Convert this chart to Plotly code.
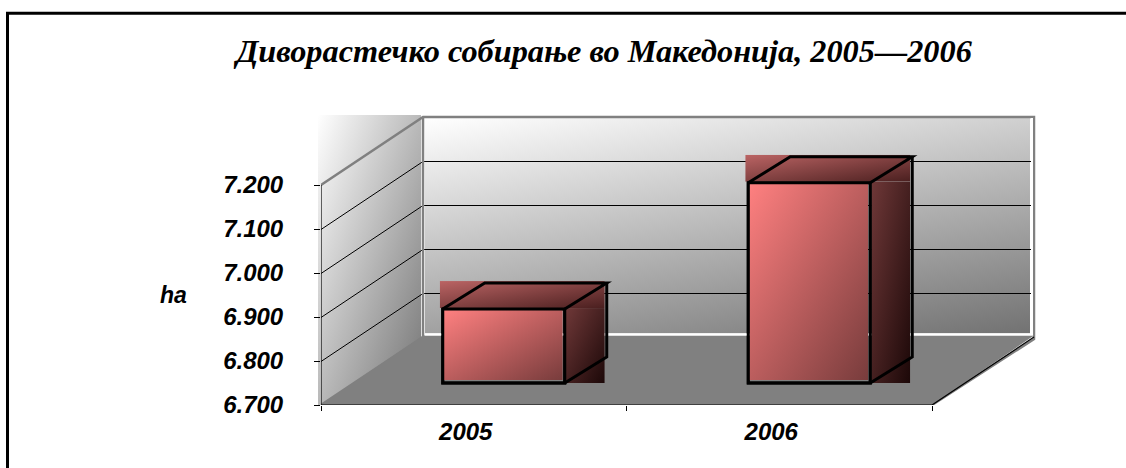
import base64
import plotly.graph_objects as go

# ---- data ----
years = ["2005", "2006"]
hectares = [6868, 7155]
y_ticks = [6700, 6800, 6900, 7000, 7100, 7200]
title_text = "Диворастечко собирање во Македонија, 2005—2006"
y_unit = "ha"

# ---- geometry (pixels of the page) ----
W, H = 1126, 468
LEFT, BOTTOM = 321, 405        # front-left corner of the floor
PLOT_R, PLOT_T = 1040, 112
PX_X, PX_Y = 305.5, 0.44       # pixels per category / per hectare
BASE = y_ticks[0]

x_lo = -0.5
x_hi = 1.5
def ux(px): return px / PX_X
def uy(px): return px / PX_Y

WALL_DX, WALL_DY = ux(102), uy(68)
BAR_W = ux(122)
BAR_SHIFT_X, BAR_SHIFT_Y = ux(30), uy(22)
BAR_DX, BAR_DY = ux(42), uy(26)

def grad(c0, c1, vx=1, vy=1):
    svg = ('<svg xmlns="http://www.w3.org/2000/svg" width="100" height="100" preserveAspectRatio="none">'
           f'<defs><linearGradient id="g" x1="0" y1="0" x2="{vx}" y2="{vy}">'
           f'<stop offset="0" stop-color="{c0}"/><stop offset="1" stop-color="{c1}"/>'
           '</linearGradient></defs><rect width="100" height="100" fill="url(#g)"/></svg>')
    return "data:image/svg+xml;base64," + base64.b64encode(svg.encode()).decode()

def img_data(src, x0, x1, y_top, y_bot, layer):
    return dict(source=src, xref="x", yref="y", x=x0, y=y_top, sizex=x1 - x0, sizey=y_top - y_bot,
                xanchor="left", yanchor="top", sizing="stretch", layer=layer)

fig = go.Figure()
images, shapes = [], []

# left wall: gradient rectangle, slightly wider than the wall itself
plot_w, plot_h = PLOT_R - LEFT, BOTTOM - PLOT_T
images.append(dict(source=grad("#ffffff", "#747474"), xref="paper", yref="paper",
                   x=(318 - LEFT) / plot_w, y=(BOTTOM - 115) / plot_h,
                   sizex=(421 - 318) / plot_w, sizey=(405 - 115) / plot_h,
                   xanchor="left", yanchor="top", sizing="stretch", layer="below"))
# back wall
images.append(img_data(grad("#ffffff", "#727272", 0.6, 1.2),
                       x_lo + WALL_DX + ux(2), x_hi + WALL_DX - ux(4),
                       y_ticks[-1] + WALL_DY - uy(1), BASE + WALL_DY + uy(3.5), "below"))
# floor
fx = [x_lo, x_lo + WALL_DX, x_hi + WALL_DX, x_hi]
fy = [BASE, BASE + WALL_DY + uy(1.5), BASE + WALL_DY + uy(1.5), BASE]
shapes.append(dict(type="path", xref="x", yref="y", layer="below", line=dict(width=0),
                   fillcolor="#808080",
                   path="M" + " L".join(f"{a},{b}" for a, b in zip(fx, fy)) + " Z"))

# half-pixel nudge keeps 1px horizontal lines on a single pixel row
NUDGE = uy(0.5)

# wall grid lines
for v in y_ticks[1:-1]:
    fig.add_trace(go.Scatter(x=[x_lo, x_lo + WALL_DX, x_hi + WALL_DX],
                             y=[v - NUDGE, v + WALL_DY - NUDGE, v + WALL_DY - NUDGE],
                             mode="lines", line=dict(color="#000000", width=1), hoverinfo="skip"))
# grey outline of the walls
GREY = "#808080"
top, low = y_ticks[-1], BASE
fig.add_trace(go.Scatter(x=[x_lo, x_lo + WALL_DX, x_hi + WALL_DX, x_hi + WALL_DX, x_hi],
                         y=[top, top + WALL_DY, top + WALL_DY, low + WALL_DY - uy(2), low],
                         mode="lines", line=dict(color=GREY, width=2.5), hoverinfo="skip"))
fig.add_trace(go.Scatter(x=[x_lo + WALL_DX, x_lo + WALL_DX, x_lo],
                         y=[top + WALL_DY, low + WALL_DY, low],
                         mode="lines", line=dict(color=GREY, width=2.5), hoverinfo="skip"))
# white sill of the back wall
fig.add_trace(go.Scatter(x=[x_lo + WALL_DX + ux(2), x_hi + WALL_DX - ux(2), x_hi + WALL_DX - ux(2)],
                         y=[low + WALL_DY + uy(2.5), low + WALL_DY + uy(2.5), top + WALL_DY - uy(1)],
                         mode="lines", line=dict(color="#ffffff", width=2), hoverinfo="skip"))
# axes
fig.add_trace(go.Scatter(x=[x_lo, x_lo], y=[low, top], mode="lines",
                         line=dict(color="#000000", width=1.2), hoverinfo="skip"))
fig.add_trace(go.Scatter(x=[x_lo, x_hi, x_hi + WALL_DX], y=[low, low, low + WALL_DY], mode="lines",
                         line=dict(color="#000000", width=1.2), hoverinfo="skip"))

# bars
xs = [i for i in range(len(years))]
fig.add_trace(go.Bar(x=xs, y=[v - BASE for v in hectares], base=BASE + BAR_SHIFT_Y,
                     width=BAR_W, offset=-BAR_W / 2 + BAR_SHIFT_X,
                     marker=dict(color="rgba(0,0,0,0)", line=dict(color="#000000", width=3))))

for i, v in zip(xs, hectares):
    x0 = i - BAR_W / 2 + BAR_SHIFT_X
    x1 = x0 + BAR_W
    y0 = BASE + BAR_SHIFT_Y
    y1 = y0 + (v - BASE)
    # top band, side band, front: gradient rectangles, slightly misaligned as in the original
    images.append(img_data(grad("#bb6464", "#4a1f1f"), x0 - ux(3), x1 + BAR_DX - ux(2),
                           y1 + BAR_DY + uy(2), y1 + uy(1), "above"))
    images.append(img_data(grad("#6f3838", "#1c0808"), x1 + ux(1), x1 + BAR_DX - ux(2),
                           y1 + uy(1), y0 - uy(0), "above"))
    images.append(img_data(grad("#ff8080", "#783c3c"), x0 + ux(1), x1 - ux(2),
                           y1 - uy(1), y0 + uy(3), "above"))
    paths = [
        f"M{x0},{y0} L{x1},{y0} L{x1},{y1} L{x0},{y1} Z",
        f"M{x0},{y1} L{x0 + BAR_DX},{y1 + BAR_DY} L{x1 + BAR_DX},{y1 + BAR_DY} L{x1},{y1}",
        f"M{x1 + BAR_DX},{y1 + BAR_DY} L{x1 + BAR_DX},{y0 + BAR_DY} L{x1},{y0}",
    ]
    for p in paths:
        shapes.append(dict(type="path", xref="x", yref="y", layer="above", path=p,
                           line=dict(color="#000000", width=3)))

# cropped frame: only left and top edges fall inside the picture
shapes.append(dict(type="path", xref="paper", yref="paper", layer="above",
                   line=dict(color="#000000", width=3),
                   path=f"M{(7.5 - LEFT) / plot_w},{(BOTTOM - 470) / plot_h} "
                        f"L{(7.5 - LEFT) / plot_w},{(BOTTOM - 13.3) / plot_h} "
                        f"L{(1130 - LEFT) / plot_w},{(BOTTOM - 13.3) / plot_h}"))

TICKFONT = dict(family="Liberation Sans", size=24, color="#000000", weight="bold", style="italic")

fig.update_layout(
    width=W, height=H, autosize=False, showlegend=False,
    paper_bgcolor="#ffffff", plot_bgcolor="#ffffff", separators=",.",
    margin=dict(l=LEFT, r=W - PLOT_R, t=PLOT_T, b=H - BOTTOM, pad=0),
    title=dict(text=title_text, x=604 / W, xanchor="center", y=1 - 51 / H, yanchor="middle",
               font=dict(family="Liberation Serif", size=32.3, color="#000000", weight="bold", style="italic")),
    xaxis=dict(range=[x_lo, x_lo + ux(plot_w)], showgrid=False, zeroline=False, showline=False,
               tickmode="array", tickvals=xs, ticktext=years, ticks="", ticklen=0,
               tickfont=TICKFONT, ticklabelshift=-8, ticklabelstandoff=10,
               minor=dict(tickmode="array", tickvals=[-0.5, 0.5, 1.5], ticks="outside", ticklen=5,
                          tickwidth=1, tickcolor="#000000", showgrid=False)),
    yaxis=dict(range=[BASE, BASE + uy(plot_h)], showgrid=False, zeroline=False, showline=False,
               tickmode="array", tickvals=y_ticks, tickformat=",d", ticks="outside", ticklen=6,
               tickwidth=1, tickcolor="#000000", tickfont=TICKFONT, ticklabelstandoff=26),
    images=images, shapes=shapes,
    annotations=[dict(text=y_unit, xref="paper", yref="paper", x=(173 - LEFT) / plot_w,
                      y=(BOTTOM - 295) / plot_h, xanchor="center", yanchor="middle", showarrow=False,
                      font=dict(family="Liberation Sans", size=23, color="#000000", weight="bold", style="italic"))],
)
fig.write_html("out.html", config={"displayModeBar": False},
               post_script="document.body.style.margin='0';")
